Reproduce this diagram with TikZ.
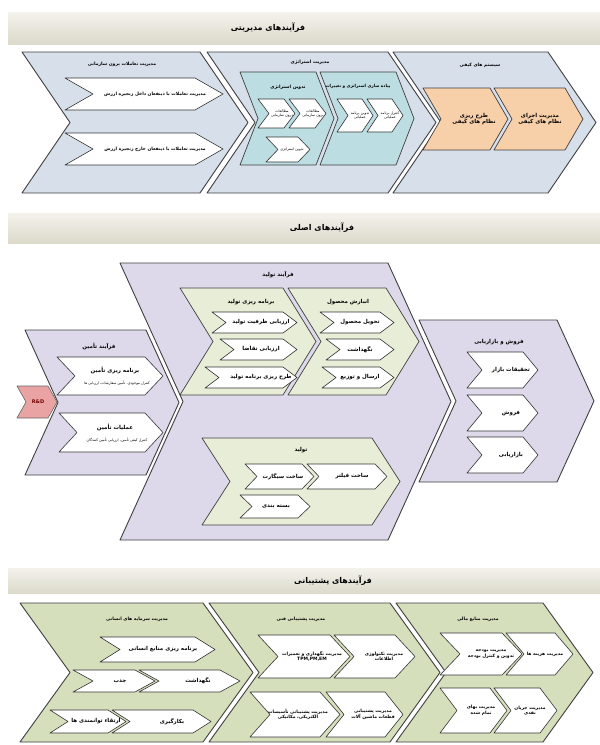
\documentclass[tikz,border=0pt]{standalone}
\usepackage{fontspec}
\newfontfamily\arabicfont[Script=Arabic]{DejaVu Sans}
\TeXXeTstate=1
\definecolor{blueA}{HTML}{D6DFEA}
\definecolor{tealA}{HTML}{BCDDE2}
\definecolor{orngA}{HTML}{F7D0AA}
\definecolor{lavA}{HTML}{DDD9EA}
\definecolor{grnA}{HTML}{E7EDD6}
\definecolor{oliveA}{HTML}{D5DFBC}
\definecolor{rdA}{HTML}{E9A3A3}
\definecolor{bandA}{HTML}{F3F2EC}
\definecolor{bandB}{HTML}{DCDACB}
\newcommand{\fa}[1]{\beginR#1\endR}
\newcommand{\chev}[6]{\draw[#1] (#2,#3) -- (#4,#3) -- ({#4+#6},{(#3+#5)/2}) -- (#4,#5) -- (#2,#5) -- ({#2+#6},{(#3+#5)/2}) -- cycle;}
\begin{document}
\begin{tikzpicture}[x=1pt, y=-1pt, line join=round,
	big1/.style={draw=black!75, line width=.9pt, fill=blueA},
	big2/.style={draw=black!75, line width=.9pt, fill=lavA},
	big3/.style={draw=black!75, line width=.9pt, fill=oliveA},
	tealbox/.style={draw=black!75, line width=.7pt, fill=tealA},
	orng/.style={draw=black!75, line width=.7pt, fill=orngA},
	grn/.style={draw=black!75, line width=.7pt, fill=grnA},
	rd/.style={draw=black!60, line width=.6pt, fill=rdA},
	wht/.style={draw=black!80, line width=.6pt, fill=white},
	hd/.style={font=\arabicfont\bfseries\fontsize{8}{9}\selectfont, inner sep=0pt},
	lbl/.style={font=\arabicfont\bfseries\fontsize{5.5}{6.5}\selectfont, align=center, inner sep=0pt},
	sml/.style={lbl, font=\arabicfont\bfseries\fontsize{4.5}{5.5}\selectfont},
	tny/.style={lbl, font=\arabicfont\fontsize{3.6}{4.4}\selectfont}
	]
	\useasboundingbox (0,0) rectangle (600,745);
	\fill[white] (0,0) rectangle (600,745);
	% management
	\shade[top color=bandA, bottom color=bandB] (8,12) rectangle (600,44);
	\node[hd] (hdA) at (268,28) {\fa{فرآیندهای مدیریتی}};
	\chev{big1}{22}{52}{200}{193}{48}
	\chev{big1}{207}{52}{388}{193}{48}
	\chev{big1}{393}{52}{548}{193}{48}
	\node[sml] (extM) at (122,64) {\fa{مدیریت تعاملات برون سازمانی}};
	\chev{wht}{65}{78}{195}{110}{28}
	\chev{wht}{65}{133}{195}{165}{28}
	\node[sml] (extA) at (155,94) {\fa{مدیریت تعاملات با ذینفعان داخل زنجیره ارزش}};
	\node[sml] (extB) at (155,149) {\fa{مدیریت تعاملات با ذینفعان خارج زنجیره ارزش}};
	\node[sml] (strM) at (310,62) {\fa{مدیریت استراتژی}};
	\chev{tealbox}{240}{72}{316}{165}{18}
	\chev{tealbox}{320}{72}{396}{165}{18}
	\node[sml] (strL) at (288,87) {\fa{تدوین استراتژی}};
	\node[sml,font=\arabicfont\bfseries\fontsize{4.2}{5}\selectfont] (strR) at (358,86) {\fa{پیاده سازی استراتژی و تغییرات}};
	\chev{wht}{258}{99}{284}{128}{11}
	\chev{wht}{289}{99}{315}{128}{11}
	\chev{wht}{266}{137}{298}{162}{12}
	\chev{wht}{337}{99}{362}{132}{11}
	\chev{wht}{367}{99}{392}{132}{11}
	\node[tny] (strL1) at (282,113.5) {\fa{مطالعات}\\\fa{درون سازمانی}};
	\node[tny] (strL2) at (313,113.5) {\fa{مطالعات}\\\fa{برون سازمانی}};
	\node[tny] (strL3) at (292,149.5) {\fa{تدوین استراتژی}};
	\node[tny] (strR1) at (360,115.5) {\fa{تدوین برنامه}\\\fa{عملیاتی}};
	\node[tny] (strR2) at (390,115.5) {\fa{کنترل برنامه}\\\fa{عملیاتی}};
	\node[sml] (qual) at (480,65) {\fa{سیستم های کیفی}};
	\chev{orng}{423}{88}{490}{150}{18}
	\chev{orng}{494}{88}{565}{150}{18}
	\node[lbl] (qPlan) at (474,119) {\fa{طرح ریزی}\\\fa{نظام های کیفی}};
	\node[lbl] (qRun) at (540,119) {\fa{مدیریت اجرای}\\\fa{نظام های کیفی}};
	% main
	\shade[top color=bandA, bottom color=bandB] (8,213) rectangle (600,243);
	\node[hd] (hdB) at (322,228) {\fa{فرآیندهای اصلی}};
	\chev{big2}{120}{263}{388}{540}{63}
	\chev{big2}{25}{330}{146}{475}{33}
	\chev{big2}{419}{320}{557}{482}{37}
	\chev{rd}{17}{386}{48}{418}{9}
	\node[font=\arabicfont\bfseries\fontsize{5}{6}\selectfont, text=red!45!black, inner sep=0pt] (rnd) at (38,402) {R\&D};
	\node[lbl] (supM) at (99,346) {\fa{فرآیند تأمین}};
	\chev{wht}{57}{357}{145}{395}{18}
	\chev{wht}{59}{413}{145}{452}{18}
	\node[lbl] (supA) at (115,370) {\fa{برنامه ریزی تأمین}};
	\node[tny] (supA2) at (117,383) {\fa{کنترل موجودی، تأمین سفارشات، ارزیابی ها}};
	\node[lbl] (supB) at (115,427) {\fa{عملیات تأمین}};
	\node[tny] (supB2) at (117,440) {\fa{کنترل کیفی تأمین، ارزیابی تأمین کنندگان}};
	\node[lbl] (prdM) at (278,275) {\fa{فرآیند تولید}};
	\chev{grn}{180}{288}{283}{395}{33}
	\chev{grn}{288}{288}{386}{395}{33}
	\node[lbl] (plnM) at (251,302) {\fa{برنامه ریزی تولید}};
	\node[lbl] (stoM) at (348,302) {\fa{انبارش محصول}};
	\foreach \t/\a/\y [count=\i] in {ارزیابی ظرفیت تولید/212/312, ارزیابی تقاضا/220/339, طرح ریزی برنامه تولید/205/367}{
		\chev{wht}{\a}{\y}{283}{\y+21}{14}
		\node[lbl] (pln\i) at (261,\y+10.5) {\fa{\t}};
	}
	\foreach \t/\a/\y [count=\i] in {تحویل محصول/320/312, نگهداشت/326/339, ارسال و توزیع/322/367}{
		\chev{wht}{\a}{\y}{380}{\y+21}{14}
		\node[lbl] (sto\i) at (360,\y+10.5) {\fa{\t}};
	}
	\chev{grn}{202}{438}{372}{525}{28}
	\node[lbl] (mfgM) at (301,450) {\fa{تولید}};
	\chev{wht}{307}{464}{375}{489}{12}
	\chev{wht}{245}{464}{302}{489}{12}
	\chev{wht}{240}{495}{298}{518}{12}
	\node[lbl] (mfg1) at (352,476.5) {\fa{ساخت فیلتر}};
	\node[lbl] (mfg2) at (283,476.5) {\fa{ساخت سیگارت}};
	\node[lbl] (mfg3) at (276,506.5) {\fa{بسته بندی}};
	\node[lbl] (salM) at (499,342) {\fa{فروش و بازاریابی}};
	\foreach \t/\y [count=\i] in {تحقیقات بازار/352, فروش/395, بازاریابی/437}{
		\chev{wht}{467}{\y}{523}{\y+36}{15}
		\node[lbl] (sal\i) at (511,\y+18) {\fa{\t}};
	}
	% support
	\shade[top color=bandA, bottom color=bandB] (8,568) rectangle (600,593);
	\node[hd] (hdC) at (333,581) {\fa{فرآیندهای پشتیبانی}};
	\chev{big3}{20}{603}{203}{742}{50}
	\chev{big3}{209}{603}{390}{742}{50}
	\chev{big3}{396}{603}{543}{742}{50}
	\node[sml] (hrM) at (137,619) {\fa{مدیریت سرمایه های انسانی}};
	\chev{wht}{100}{637}{195}{662}{20}
	\chev{wht}{73}{670}{135}{692}{20}
	\chev{wht}{139}{670}{220}{692}{20}
	\chev{wht}{50}{710}{108}{733}{18}
	\chev{wht}{112}{710}{193}{733}{18}
	\node[lbl] (hr1) at (163,649.5) {\fa{برنامه ریزی منابع انسانی}};
	\node[lbl] (hr2) at (120,681) {\fa{جذب}};
	\node[lbl] (hr3) at (198,681) {\fa{نگهداشت}};
	\node[lbl] (hr4) at (96,721.5) {\fa{ارتقاء توانمندی ها}};
	\node[lbl] (hr5) at (172,721.5) {\fa{بکارگیری}};
	\node[sml] (tecM) at (301,619) {\fa{مدیریت پشتیبانی فنی}};
	\chev{wht}{258}{635}{330}{678}{20}
	\chev{wht}{334}{635}{395}{678}{20}
	\chev{wht}{250}{692}{320}{737}{20}
	\chev{wht}{326}{692}{385}{737}{18}
	\node[sml] (tec1) at (312,656.5) {\fa{مدیریت نگهداری و تعمیرات}\\TPM,PM,EM};
	\node[sml] (tec2) at (384,656.5) {\fa{مدیریت تکنولوژی}\\\fa{اطلاعات}};
	\node[sml] (tec3) at (298,714.5) {\fa{مدیریت پشتیبانی تأسیسات}\\\fa{الکتریکی، مکانیکی}};
	\node[sml] (tec4) at (373,714.5) {\fa{مدیریت پشتیبانی}\\\fa{قطعات ماشین آلات}};
	\node[sml] (finM) at (478,619) {\fa{مدیریت منابع مالی}};
	\chev{wht}{440}{633}{502}{675}{20}
	\chev{wht}{506}{633}{555}{675}{18}
	\chev{wht}{440}{688}{490}{733}{17}
	\chev{wht}{494}{688}{540}{733}{17}
	\node[sml] (fin1) at (491,654) {\fa{مدیریت بودجه}\\\fa{تدوین و کنترل بودجه}};
	\node[sml] (fin2) at (545,654) {\fa{مدیریت هزینه ها}};
	\node[sml] (fin3) at (481,710.5) {\fa{مدیریت بهای}\\\fa{تمام شده}};
	\node[sml] (fin4) at (530,710.5) {\fa{مدیریت جریان}\\\fa{نقدی}};
\end{tikzpicture}
\end{document}
